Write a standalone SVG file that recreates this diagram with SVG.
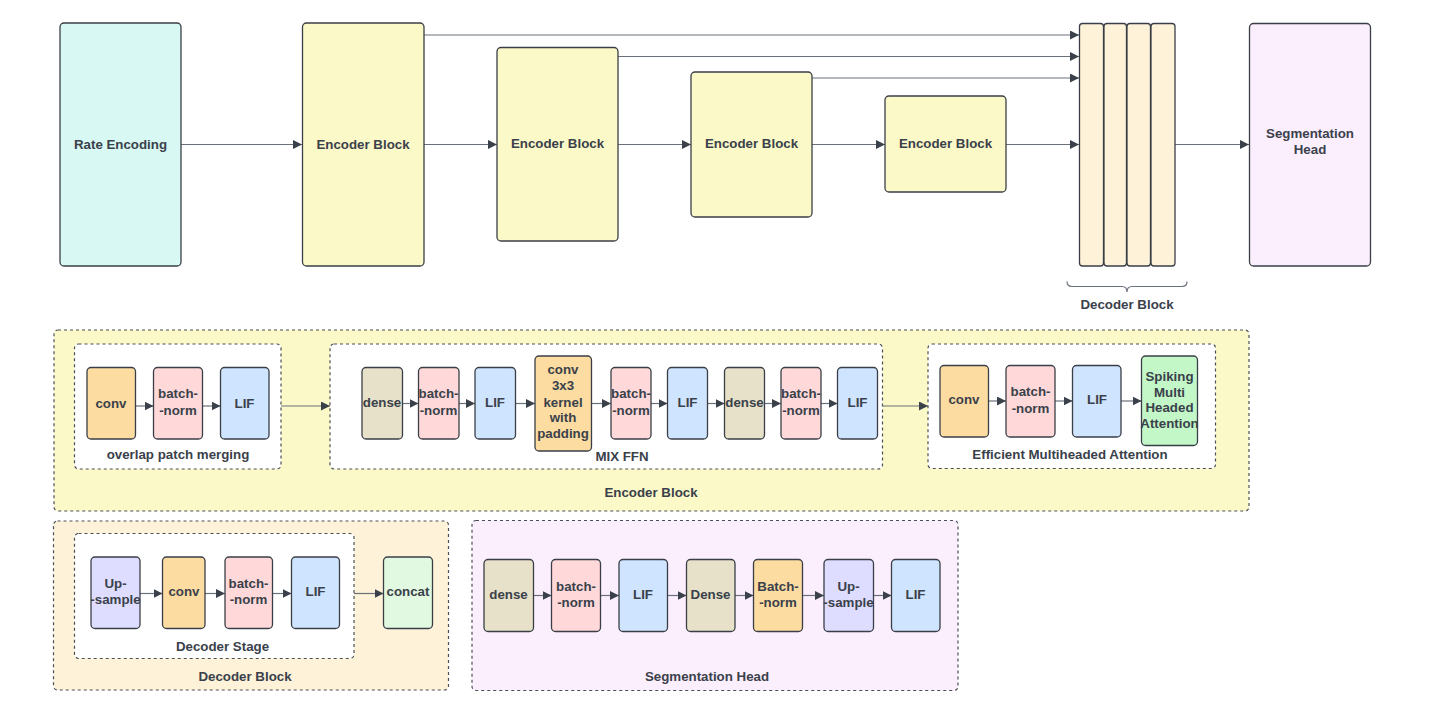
<svg xmlns="http://www.w3.org/2000/svg" width="1432" height="707" viewBox="0 0 1432 707">
<defs>
<marker id="ah" markerUnits="userSpaceOnUse" markerWidth="10" markerHeight="10" refX="9" refY="4.5" orient="auto">
<path d="M0,0 L9,4.5 L0,9 z" fill="#3a414a"/>
</marker>
<style>
.n{stroke:#3a3f47;stroke-width:1.3}
.p{stroke:#4a4f57;stroke-width:1.2;stroke-dasharray:3 3}
.t{font-family:"Liberation Sans",Arial,sans-serif;font-weight:bold;font-size:13.3px;fill:#3a414a;text-anchor:middle}
.c line,.c path{stroke:#6b717b;stroke-width:1.2;fill:none}
.c line{marker-end:url(#ah)}
.cy{fill:#d7f8f3}.ye{fill:#fcf9c9}.de{fill:#fef2d9}.sh{fill:#fbeefd}
.or{fill:#fddca2}.pk{fill:#ffd9d9}.bl{fill:#cfe4ff}.dn{fill:#e6e1c8}.gr{fill:#c3f7c8}.lg{fill:#e1f8e1}.pu{fill:#dedcff}
</style>
</defs>
<rect width="1432" height="707" fill="#ffffff"/>

<!-- panels -->
<g id="panel-encoder">
<rect class="p ye" x="54" y="330" width="1195" height="181" rx="4"/>
<text class="t" x="651" y="496.5">Encoder Block</text>
</g>
<g id="panel-opm">
<rect class="p" fill="#ffffff" x="74.5" y="344" width="206.5" height="125" rx="4"/>
<text class="t" x="178" y="459">overlap patch merging</text>
</g>
<g id="panel-mixffn">
<rect class="p" fill="#ffffff" x="330" y="344" width="552.5" height="125" rx="4"/>
<text class="t" x="622" y="461">MIX FFN</text>
</g>
<g id="panel-ema">
<rect class="p" fill="#ffffff" x="928" y="344" width="287.5" height="124.5" rx="4"/>
<text class="t" x="1070" y="459">Efficient Multiheaded Attention</text>
</g>
<g id="panel-decoder">
<rect class="p de" x="53.5" y="521" width="395" height="169" rx="4"/>
<text class="t" x="245" y="680.5">Decoder Block</text>
</g>
<g id="panel-decstage">
<rect class="p" fill="#ffffff" x="74.5" y="533.5" width="279.5" height="125" rx="4"/>
<text class="t" x="222.5" y="650.5">Decoder Stage</text>
</g>
<g id="panel-seghead">
<rect class="p sh" x="472" y="520.5" width="486" height="170" rx="4"/>
<text class="t" x="707" y="680.5">Segmentation Head</text>
</g>

<!-- connectors -->
<g id="connectors" class="c">
<line x1="181" y1="144.5" x2="302" y2="144.5"/>
<line x1="424" y1="144.5" x2="497" y2="144.5"/>
<line x1="618" y1="144.5" x2="691" y2="144.5"/>
<line x1="812" y1="144.5" x2="885" y2="144.5"/>
<line x1="1006" y1="144.5" x2="1079" y2="144.5"/>
<line x1="424" y1="35" x2="1079" y2="35"/>
<line x1="618" y1="56.5" x2="1079" y2="56.5"/>
<line x1="812" y1="78" x2="1079" y2="78"/>
<line x1="1175" y1="144.5" x2="1249" y2="144.5"/>
<path d="M1067,281.5 Q1067,286.5 1072,286.5 L1122,286.5 Q1127,286.5 1127,292 Q1127,286.5 1132,286.5 L1182,286.5 Q1187,286.5 1187,281.5" stroke="#3a414a"/>
<!-- encoder block detail -->
<line x1="135.5" y1="406" x2="153.5" y2="406"/>
<line x1="202.5" y1="406" x2="220.5" y2="406"/>
<line x1="281" y1="406" x2="330" y2="406"/>
<line x1="402.5" y1="403.5" x2="418.5" y2="403.5"/>
<line x1="459" y1="403.5" x2="475" y2="403.5"/>
<line x1="515.5" y1="403.5" x2="535" y2="403.5"/>
<line x1="591.5" y1="403.5" x2="611" y2="403.5"/>
<line x1="651" y1="403.5" x2="667.5" y2="403.5"/>
<line x1="707.5" y1="403.5" x2="724.5" y2="403.5"/>
<line x1="764.5" y1="403.5" x2="781" y2="403.5"/>
<line x1="821" y1="403.5" x2="837.5" y2="403.5"/>
<line x1="882.5" y1="406" x2="928" y2="406"/>
<line x1="988.5" y1="401" x2="1006" y2="401"/>
<line x1="1055" y1="401" x2="1072.5" y2="401"/>
<line x1="1121" y1="401" x2="1141.5" y2="401"/>
<!-- decoder block detail -->
<line x1="140" y1="593.5" x2="162.5" y2="593.5"/>
<line x1="205" y1="593.5" x2="225" y2="593.5"/>
<line x1="272.5" y1="593.5" x2="291.5" y2="593.5"/>
<line x1="354" y1="593.5" x2="383.5" y2="593.5"/>
<!-- segmentation head detail -->
<line x1="533.5" y1="595.5" x2="551.5" y2="595.5"/>
<line x1="600.5" y1="595.5" x2="619" y2="595.5"/>
<line x1="667.5" y1="595.5" x2="686.5" y2="595.5"/>
<line x1="735" y1="595.5" x2="753.5" y2="595.5"/>
<line x1="802.5" y1="595.5" x2="824" y2="595.5"/>
<line x1="873.5" y1="595.5" x2="891.5" y2="595.5"/>
</g>

<!-- top row nodes -->
<g id="rate-encoding"><rect class="n cy" x="60" y="23" width="121" height="243" rx="4"/><text class="t" x="120.5" y="148.5">Rate Encoding</text></g>
<g id="encoder-1"><rect class="n ye" x="302.5" y="23" width="121.5" height="243" rx="4"/><text class="t" x="363" y="148.5">Encoder Block</text></g>
<g id="encoder-2"><rect class="n ye" x="497" y="47.5" width="121" height="193.5" rx="4"/><text class="t" x="557.5" y="147.5">Encoder Block</text></g>
<g id="encoder-3"><rect class="n ye" x="691" y="72" width="121" height="145" rx="4"/><text class="t" x="751.5" y="147.5">Encoder Block</text></g>
<g id="encoder-4"><rect class="n ye" x="885" y="96" width="121" height="96" rx="4"/><text class="t" x="945.5" y="147.5">Encoder Block</text></g>
<g id="decoder-stack">
<rect class="n de" x="1079.5" y="23.5" width="24" height="242.5" rx="3"/>
<rect class="n de" x="1104" y="23.5" width="22.5" height="242.5" rx="3"/>
<rect class="n de" x="1127" y="23.5" width="23.5" height="242.5" rx="3"/>
<rect class="n de" x="1151" y="23.5" width="24" height="242.5" rx="3"/>
<text class="t" x="1127" y="308.5">Decoder Block</text>
</g>
<g id="segmentation-head"><rect class="n sh" x="1249.5" y="23.5" width="121" height="242.5" rx="4"/><text class="t" x="1310" y="138">Segmentation</text><text class="t" x="1310" y="154">Head</text></g>

<!-- encoder block detail nodes -->
<g id="opm-conv"><rect class="n or" x="87" y="367.5" width="48.5" height="71.5" rx="4"/><text class="t" x="111" y="408">conv</text></g>
<g id="opm-bn"><rect class="n pk" x="153.5" y="367.5" width="49" height="71.5" rx="4"/><text class="t" x="178" y="398">batch-</text><text class="t" x="178" y="414.5">-norm</text></g>
<g id="opm-lif"><rect class="n bl" x="220.5" y="367.5" width="48.5" height="71.5" rx="4"/><text class="t" x="244.5" y="408">LIF</text></g>

<g id="ffn-dense1"><rect class="n dn" x="362" y="367.5" width="40.5" height="71.5" rx="4"/><text class="t" x="382" y="407">dense</text></g>
<g id="ffn-bn1"><rect class="n pk" x="418.5" y="367.5" width="40.5" height="71.5" rx="4"/><text class="t" x="438.5" y="398">batch-</text><text class="t" x="438.5" y="414.5">-norm</text></g>
<g id="ffn-lif1"><rect class="n bl" x="475" y="367.5" width="40.5" height="71.5" rx="4"/><text class="t" x="495" y="407">LIF</text></g>
<g id="ffn-conv"><rect class="n or" x="535" y="356" width="56.5" height="95" rx="4"/>
<text class="t" x="563" y="374">conv</text><text class="t" x="563" y="390">3x3</text><text class="t" x="563" y="406.5">kernel</text><text class="t" x="563" y="422">with</text><text class="t" x="563" y="438">padding</text></g>
<g id="ffn-bn2"><rect class="n pk" x="611" y="367.5" width="40" height="71.5" rx="4"/><text class="t" x="631" y="398">batch-</text><text class="t" x="631" y="414.5">-norm</text></g>
<g id="ffn-lif2"><rect class="n bl" x="667.5" y="367.5" width="40" height="71.5" rx="4"/><text class="t" x="687.5" y="407">LIF</text></g>
<g id="ffn-dense2"><rect class="n dn" x="724.5" y="367.5" width="40" height="71.5" rx="4"/><text class="t" x="744.5" y="407">dense</text></g>
<g id="ffn-bn3"><rect class="n pk" x="781" y="367.5" width="40" height="71.5" rx="4"/><text class="t" x="801" y="398">batch-</text><text class="t" x="801" y="414.5">-norm</text></g>
<g id="ffn-lif3"><rect class="n bl" x="837.5" y="367.5" width="40" height="71.5" rx="4"/><text class="t" x="857.5" y="407">LIF</text></g>

<g id="ema-conv"><rect class="n or" x="940" y="365.5" width="48.5" height="71.5" rx="4"/><text class="t" x="964" y="404">conv</text></g>
<g id="ema-bn"><rect class="n pk" x="1006" y="365.5" width="49" height="71.5" rx="4"/><text class="t" x="1030.5" y="396">batch-</text><text class="t" x="1030.5" y="412.5">-norm</text></g>
<g id="ema-lif"><rect class="n bl" x="1072.5" y="365.5" width="48.5" height="71.5" rx="4"/><text class="t" x="1097" y="404">LIF</text></g>
<g id="ema-smha"><rect class="n gr" x="1141.5" y="356" width="56" height="89.5" rx="4"/>
<text class="t" x="1169.5" y="380.5">Spiking</text><text class="t" x="1169.5" y="396.5">Multi</text><text class="t" x="1169.5" y="412">Headed</text><text class="t" x="1169.5" y="428">Attention</text></g>

<!-- decoder block detail nodes -->
<g id="dec-upsample"><rect class="n pu" x="91" y="557" width="49" height="71.5" rx="4"/><text class="t" x="115.5" y="588">Up-</text><text class="t" x="115.5" y="604">-sample</text></g>
<g id="dec-conv"><rect class="n or" x="162.5" y="557" width="42.5" height="71.5" rx="4"/><text class="t" x="184" y="596">conv</text></g>
<g id="dec-bn"><rect class="n pk" x="225" y="557" width="47.5" height="71.5" rx="4"/><text class="t" x="248.5" y="588">batch-</text><text class="t" x="248.5" y="604">-norm</text></g>
<g id="dec-lif"><rect class="n bl" x="291.5" y="557" width="48" height="71.5" rx="4"/><text class="t" x="315.5" y="596">LIF</text></g>
<g id="dec-concat"><rect class="n lg" x="383.5" y="557" width="49" height="71.5" rx="4"/><text class="t" x="408" y="596">concat</text></g>

<!-- segmentation head detail nodes -->
<g id="seg-dense1"><rect class="n dn" x="484" y="559.5" width="49.5" height="72" rx="4"/><text class="t" x="508.5" y="599">dense</text></g>
<g id="seg-bn1"><rect class="n pk" x="551.5" y="559.5" width="49" height="72" rx="4"/><text class="t" x="576" y="591">batch-</text><text class="t" x="576" y="607">-norm</text></g>
<g id="seg-lif1"><rect class="n bl" x="619" y="559.5" width="48.5" height="72" rx="4"/><text class="t" x="643" y="599">LIF</text></g>
<g id="seg-dense2"><rect class="n dn" x="686.5" y="559.5" width="48.5" height="72" rx="4"/><text class="t" x="710.5" y="599">Dense</text></g>
<g id="seg-bn2"><rect class="n or" x="753.5" y="559.5" width="49" height="72" rx="4"/><text class="t" x="778" y="591">Batch-</text><text class="t" x="778" y="607">-norm</text></g>
<g id="seg-upsample"><rect class="n pu" x="824" y="559.5" width="49.5" height="72" rx="4"/><text class="t" x="848.5" y="591">Up-</text><text class="t" x="848.5" y="607">-sample</text></g>
<g id="seg-lif2"><rect class="n bl" x="891.5" y="559.5" width="48.5" height="72" rx="4"/><text class="t" x="915.5" y="599">LIF</text></g>
</svg>
